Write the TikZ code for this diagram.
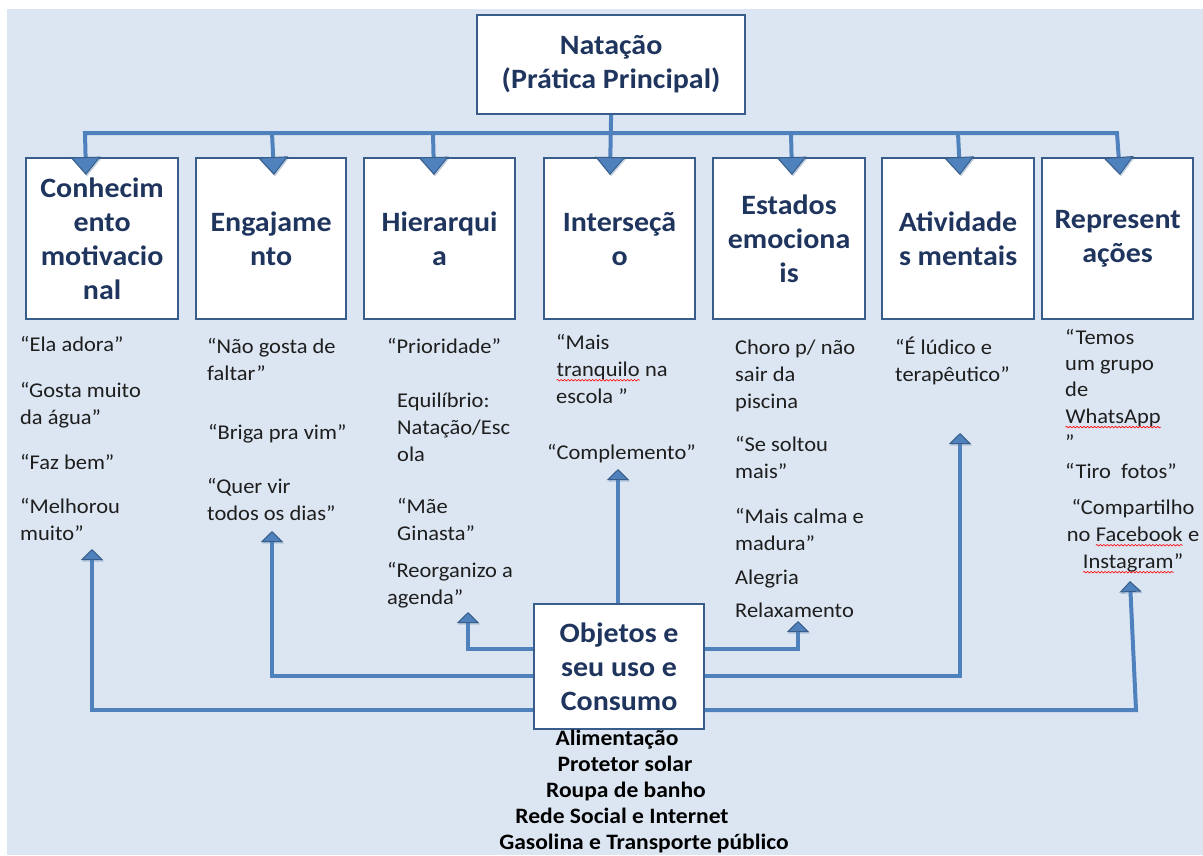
\documentclass[tikz,border=0pt]{standalone}
\usepackage{fontspec}
\setmainfont{Carlito}[FakeStretch=1.07]
\usetikzlibrary{arrows.meta,decorations.pathmorphing}
\definecolor{bgblue}{HTML}{DCE6F2}
\definecolor{lineblue}{HTML}{4F81BD}
\definecolor{edgeblue}{HTML}{385D8A}
\definecolor{boxtext}{HTML}{1F355E}
\definecolor{quotetext}{HTML}{1E1E1E}
\newcommand\sqg[1]{\tikz[baseline=0pt,x=1pt,y=1pt]{\node[inner sep=0pt,outer sep=0pt,anchor=base west] (sqw) at (0,0) {#1};
  \draw[red, line width=0.6pt, decorate, decoration={snake,amplitude=0.8pt,segment length=3.5pt}] ([yshift=-4pt]sqw.base west) -- ([yshift=-4pt]sqw.base east);}}
\newcommand\qs{\rule{0pt}{18pt}}
\begin{document}
\begin{tikzpicture}[x=1pt,y=-1pt,
  boxn/.style={draw=edgeblue, line width=2.2pt, fill=white, text=boxtext,
    font=\fontsize{28}{34}\selectfont\bfseries, align=center, inner sep=0pt, anchor=north west},
  quote/.style={text=quotetext, font=\fontsize{21}{27}\selectfont, align=left, inner sep=0pt, anchor=north west},
  quotec/.style={quote, align=center, anchor=north},
  listn/.style={text=black, font=\fontsize{22}{26}\selectfont\bfseries, inner sep=0pt, anchor=base},
  conn/.style={draw=lineblue, line width=4pt, line join=miter,
    preaction={draw=black!60, opacity=0.22, transform canvas={xshift=1pt,yshift=-1.5pt}}},
  bigtip/.style={-{Triangle[width=30pt,length=18pt,line width=1pt,color=edgeblue,fill=lineblue]}},
  bigtips/.style={{Triangle[width=30pt,length=18pt,line width=1pt,color=edgeblue,fill=lineblue]}-{Triangle[width=30pt,length=18pt,line width=1pt,color=edgeblue,fill=lineblue]}},
  smalltip/.style={-{Triangle[width=22pt,length=11pt,line width=1pt,color=edgeblue,fill=lineblue]}}
]
\useasboundingbox (0,0) rectangle (1203,855);
\fill[bgblue] (7,9) rectangle (1203,855);

% boxes
\node[boxn, minimum width=268pt, minimum height=99pt] (top) at (476,14) {Natação\\(Prática Principal)};
\node[boxn, minimum width=152pt, minimum height=161pt] (b1) at (25,157) {Conhecim\\ento\\motivacio\\nal};
\node[boxn, minimum width=150pt, minimum height=161pt] (b2) at (195,157) {Engajame\\nto};
\node[boxn, minimum width=151pt, minimum height=161pt] (b3) at (363,157) {Hierarqui\\a};
\node[boxn, minimum width=151pt, minimum height=161pt] (b4) at (543,157) {Interseçã\\o};
\node[boxn, minimum width=152pt, minimum height=161pt] (b5) at (712,157) {Estados\\emociona\\is};
\node[boxn, minimum width=152pt, minimum height=161pt] (b6) at (881,157) {Atividade\\s mentais};
\node[boxn, minimum width=151pt, minimum height=161pt] (b7) at (1041,157) {Represent\\ações};
\node[boxn, minimum width=170pt, minimum height=125pt] (obj) at (533,603) {Objetos e\\seu uso e\\Consumo};

% top connectors
\coordinate (k1) at (85,133);  \coordinate (t1) at (86,175);
\coordinate (k2) at (272,133); \coordinate (t2) at (274,175);
\coordinate (k3) at (433,133); \coordinate (t3) at (434,175);
\coordinate (t4) at (610,175);
\coordinate (k5) at (791,133); \coordinate (t5) at (792,175);
\coordinate (k6) at (958,133); \coordinate (t6) at (960,175);
\coordinate (k7) at (1117,133); \coordinate (t7) at (1120,175);
\draw[conn, bigtips] (t1) -- (k1) -- (k7) -- (t7);
\draw[conn, bigtip] (k2) -- (t2);
\draw[conn, bigtip] (k3) -- (t3);
\draw[conn, bigtip] (top.south) -- (t4);
\draw[conn, bigtip] (k5) -- (t5);
\draw[conn, bigtip] (k6) -- (t6);

% bottom connectors
\coordinate (h3) at (468,649); \coordinate (s3) at (468,612);
\coordinate (h5) at (798,649); \coordinate (s5) at (798,621);
\coordinate (h2) at (272,676); \coordinate (s2) at (272,531);
\coordinate (h6) at (960,676); \coordinate (s6) at (960,433);
\coordinate (h1) at (92,710);  \coordinate (s1) at (92,549);
\coordinate (h7) at (1136,710); \coordinate (s7) at (1130,581);
\coordinate (s4) at (618,469);
\draw[conn, smalltip] (obj.west |- h3) -- (h3) -- (s3);
\draw[conn, smalltip] (obj.east |- h5) -- (h5) -- (s5);
\draw[conn, smalltip] (obj.west |- h2) -- (h2) -- (s2);
\draw[conn, smalltip] (obj.east |- h6) -- (h6) -- (s6);
\draw[conn, smalltip] (obj.west |- h1) -- (h1) -- (s1);
\draw[conn, smalltip] (obj.east |- h7) -- (h7) -- (s7);
\draw[conn, smalltip] (obj.north -| s4) -- (s4);

% quotes column 1
\node[quote] (q1a) at (20,333) {\qs“Ela adora”};
\node[quote] (q1b) at (20,379) {\qs“Gosta muito\\da água”};
\node[quote] (q1c) at (20,451) {\qs“Faz bem”};
\node[quote] (q1d) at (20,495) {\qs“Melhorou\\muito”};
% column 2
\node[quote] (q2a) at (207,335) {\qs“Não gosta de\\faltar”};
\node[quote] (q2b) at (208,421) {\qs“Briga pra vim”};
\node[quote] (q2c) at (207,475) {\qs“Quer vir\\todos os dias”};
% column 3
\node[quote] (q3a) at (387,335) {\qs“Prioridade”};
\node[quote] (q3b) at (397,389) {\qs Equilíbrio:\\Natação/Esc\\ola};
\node[quote] (q3c) at (397,495) {\qs“Mãe\\Ginasta”};
\node[quote] (q3d) at (387,559) {\qs“Reorganizo a\\agenda”};
% column 4
\node[quote] (q4a) at (556,331) {\qs“Mais\\\sqg{tranquilo} na\\escola ”};
\node[quote] (q4b) at (547,441) {\qs“Complemento”};
% column 5
\node[quote] (q5a) at (735,336) {\qs Choro p/ não\\sair da\\piscina};
\node[quote] (q5b) at (735,433) {\qs“Se soltou\\mais”};
\node[quote] (q5c) at (735,505) {\qs“Mais calma e\\madura”};
\node[quote] (q5d) at (735,566) {\qs Alegria};
\node[quote] (q5e) at (735,599) {\qs Relaxamento};
% column 6
\node[quote] (q6) at (895,336) {\qs“É lúdico e\\terapêutico”};
% column 7
\node[quote, font=\fontsize{21}{26.3}\selectfont] (q7a) at (1065,326) {\qs“Temos\\um grupo\\de\\\sqg{WhatsApp}\\”};
\node[quote] (q7b) at (1065,460) {\qs“Tiro\ \ fotos”};
\node[quotec] (q7c) at (1133,496) {\qs“Compartilho\\no \sqg{Facebook} e\\\sqg{Instagram}”};

% list below
\node[listn] (l1) at (617,745) {Alimentação};
\node[listn] (l2) at (625,771) {Protetor solar};
\node[listn] (l3) at (626,797) {Roupa de banho};
\node[listn] (l4) at (622,823) {Rede Social e Internet};
\node[listn] (l5) at (644,849) {Gasolina e Transporte público};
\end{tikzpicture}
\end{document}
